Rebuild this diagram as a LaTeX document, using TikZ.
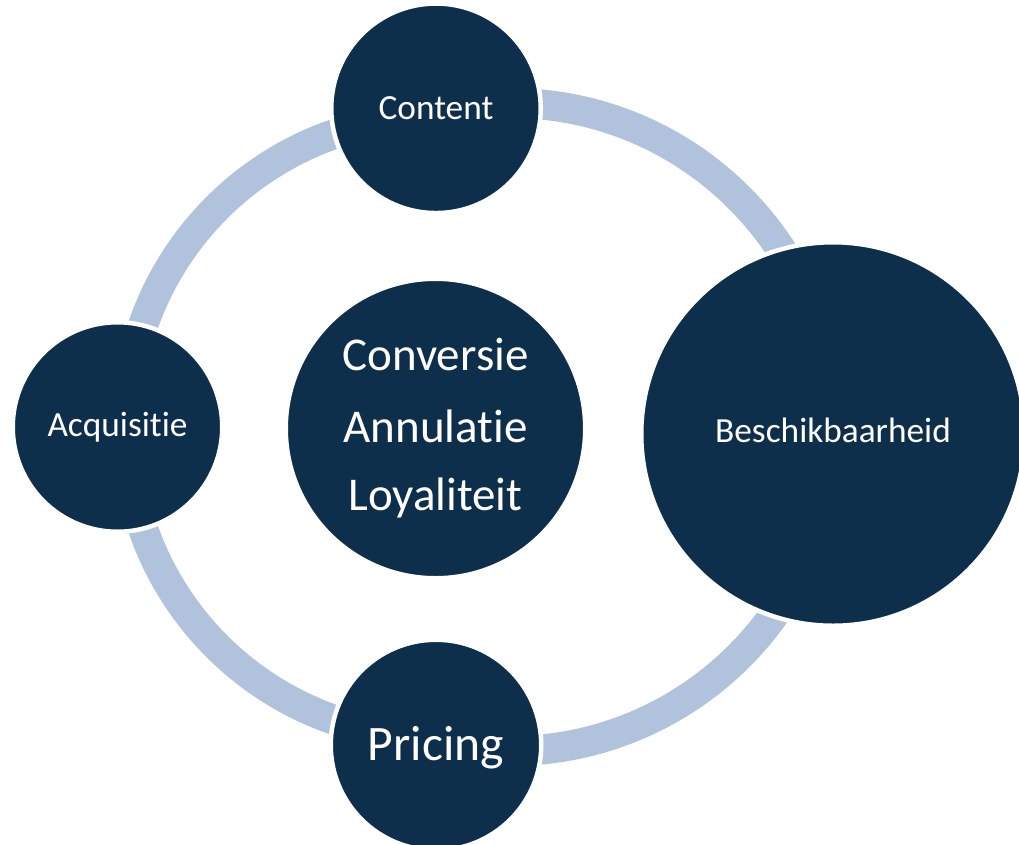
\documentclass[tikz,border=0pt]{standalone}
\usepackage{fontspec}
\setmainfont{Carlito}[Ligatures=NoCommon]
\definecolor{navy}{HTML}{0E2F4C}
\definecolor{ringblue}{HTML}{B1C2DD}
\begin{document}
\begin{tikzpicture}[x=1pt,y=-1pt,
  ring/.style={draw=ringblue, line width=30pt, line cap=butt},
  bubble/.style={circle, fill=navy, draw=white, line width=4.5pt, inner sep=0pt, text=white},
  smalltext/.style={font=\fontsize{35.3}{42}\selectfont},
]
\useasboundingbox (0,0) rectangle (1019,844);
\clip (0,0) rectangle (1019,844);
% ring centres
\coordinate (ringL) at (436,427);
\coordinate (ringR) at (510,427);
% ring segments (left half and right half)
\draw[ring] (ringL) ++(270:310) arc[start angle=270, end angle=180, radius=310];
\draw[ring] (ringL) ++(180:310) arc[start angle=180, end angle=90, radius=310];
\draw[ring] (ringR) ++(-90:324) arc[start angle=-90, end angle=0, radius=324];
\draw[ring] (ringR) ++(0:324) arc[start angle=0, end angle=90, radius=324];
% nodes
\node[bubble, smalltext, minimum size=209.5pt, text height=22.5pt, text depth=1pt] (content) at (436,108.3) {Content};
\node[bubble, smalltext, minimum size=209.5pt, text height=22.5pt, text depth=3pt] (acq) at (117.5,427) {Acquisitie};
\node[bubble, smalltext, minimum size=383.5pt, text height=22.5pt, text depth=6pt] (besch) at (833,434) {Beschikbaarheid};
\node[bubble, font=\fontsize{49.6}{59}\selectfont, minimum size=210.5pt, text height=31.5pt, text depth=1.5pt] (pricing) at (436,745) {Pricing};
\node[bubble, font=\fontsize{47}{72}\selectfont, align=center, minimum size=299.5pt] (kern) at (435.5,428.5) {Conversie\\Annulatie\\[-4pt]Loyaliteit};
\end{tikzpicture}
\end{document}
